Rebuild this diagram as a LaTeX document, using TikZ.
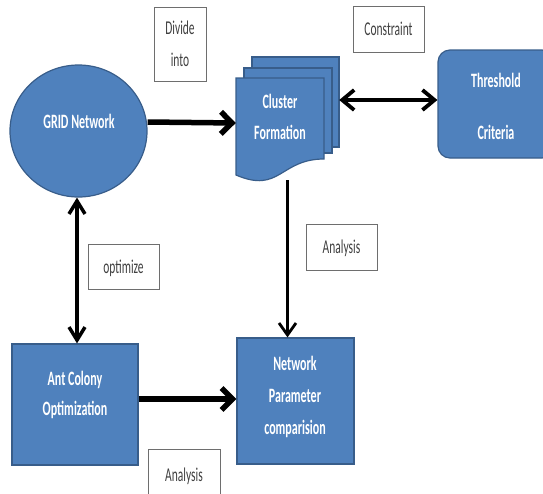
\documentclass[tikz,border=0pt]{standalone}
\usepackage{fontspec}
\setmainfont{Carlito}
\usepackage{graphicx}
\usetikzlibrary{arrows.meta,shapes.geometric}
\definecolor{shapefill}{HTML}{4F81BD}
\definecolor{shapeline}{HTML}{385D8A}
\definecolor{labeltext}{HTML}{404040}
\definecolor{labelline}{HTML}{6E6E6E}
\newcommand{\vs}[1]{\scalebox{1}[1.7]{#1}}
\begin{document}
\begin{tikzpicture}[x=1pt,y=-1pt,
  blueshape/.style={fill=shapefill,draw=shapeline,line width=1.2pt,inner sep=0pt},
  bluetext/.style={text=white,font=\bfseries\fontsize{12}{31}\selectfont,align=center,inner sep=0pt,text depth=0pt},
  labelbox/.style={draw=labelline,line width=0.9pt,fill=white,text=labeltext,font=\fontsize{11.5}{32}\selectfont,align=center,inner sep=0pt,text depth=0pt},
  bigarrow/.style={line width=5.5pt,-{Straight Barb[length=11pt,width=22pt]}},
  dblarrow/.style={line width=3.8pt,{Straight Barb[length=12pt,width=20pt]}-{Straight Barb[length=12pt,width=20pt]}},
  vdblarrow/.style={line width=3.5pt,{Straight Barb[length=13pt,width=16pt]}-{Straight Barb[length=13pt,width=16pt]}},
  thinarrow/.style={line width=2.8pt,-{Straight Barb[length=12pt,width=17pt]}}]
\useasboundingbox (0,0) rectangle (543,493);
\clip (0,0) rectangle (543,493);

% GRID Network
\node[blueshape,ellipse,minimum width=137pt,minimum height=132pt] (grid) at (78.5,131) {};
\node[bluetext] (gridtxt) at (79,121) {\vs{GRID Network}};

% Threshold Criteria
\node[blueshape,rectangle,rounded corners=12pt,minimum width=116pt,minimum height=108pt] (thr) at (496,104) {};
\node[bluetext] (thrtxt) at (496,106) {\vs{Threshold}\\[21pt]\vs{Criteria}};

% Cluster Formation (document stack)
\draw[blueshape] (252,57) -- (339,57) -- (339,147) -- (252,147) -- cycle;
\draw[blueshape] (244,68) -- (332,68) -- (332,153) -- (244,153) -- cycle;
\draw[blueshape] (236,78) -- (324,78) -- (324,159) .. controls (280,159) and (280,194) .. (236,175) -- cycle;
\node[minimum width=103pt,minimum height=123pt,inner sep=0pt] (cluster) at (287.5,118.5) {};
\node[bluetext] (clustertxt) at (280,116.5) {\vs{Cluster}\\\vs{Formation}};

% Network Parameter comparision
\node[blueshape,minimum width=117pt,minimum height=126pt] (np) at (295.5,401) {};
\node[bluetext,font=\bfseries\fontsize{12}{32}\selectfont] (nptxt) at (295,395) {\vs{Network}\\\vs{Parameter}\\\vs{comparision}};

% Ant Colony Optimization
\node[blueshape,minimum width=126pt,minimum height=121pt] (aco) at (75,404.5) {};
\node[bluetext,font=\bfseries\fontsize{12}{30}\selectfont] (acotxt) at (75,393) {\vs{Ant Colony}\\\vs{Optimization}};

% label boxes
\node[labelbox,minimum width=52pt,minimum height=74pt] (divide) at (180,44) {\vs{Divide}\\\vs{into}};
\node[labelbox,minimum width=71pt,minimum height=46pt] (constraint) at (388.5,29) {\vs{Constraint}};
\node[labelbox,minimum width=71pt,minimum height=45pt] (optimize) at (123.5,266.5) {\vs{optimize}};
\node[labelbox,minimum width=71pt,minimum height=46pt] (analysisA) at (341.5,247) {\vs{Analysis}};
\node[labelbox,minimum width=72pt,minimum height=52pt] (analysisB) at (184,475) {\vs{Analysis}};

% connectors
\draw[bigarrow] ([yshift=9pt]grid.east) -- ([yshift=-4.5pt]cluster.west);
\draw[dblarrow] ([yshift=18.5pt]cluster.east) -- ([yshift=4pt]thr.west);
\draw[thinarrow] (cluster.south) -- (cluster.south |- np.north);
\draw[vdblarrow] ([xshift=-1.5pt]grid.south) -- ([xshift=2pt]aco.north);
\draw[bigarrow] ([yshift=5.5pt]aco.east) -- ([yshift=2pt]np.west);
\end{tikzpicture}
\end{document}
